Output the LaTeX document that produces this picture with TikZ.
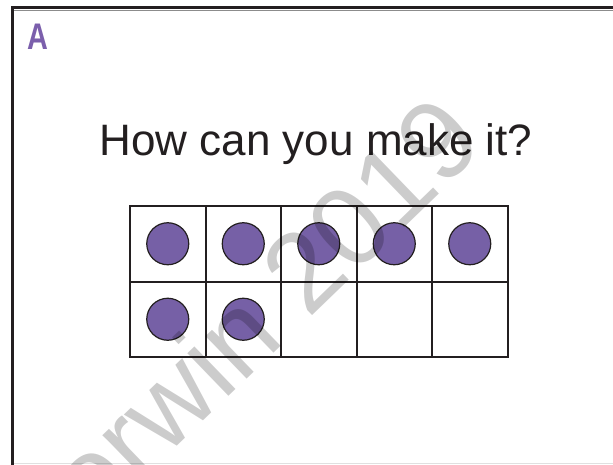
\documentclass[tikz,border=0pt]{standalone}
\usepackage{fontspec}
\setmainfont{Liberation Sans}
\definecolor{ink}{HTML}{231F20}
\definecolor{dotpurple}{HTML}{7660A6}
\definecolor{lblpurple}{HTML}{7B5FAC}
\begin{document}
\begin{tikzpicture}[x=1pt,y=-1pt,
  cell/.style={draw=ink,line width=2pt,minimum size=75.5pt,inner sep=0pt,outer sep=0pt},
  counter/.style={circle,draw=ink,line width=1.2pt,fill=dotpurple,minimum size=42pt,inner sep=0pt},
  frameline/.style={draw=ink,line width=3pt},
  watermark/.style={text=black,text opacity=0.2,font=\fontsize{112}{120}\selectfont}]
\useasboundingbox (0,0) rectangle (613,465);
\fill[white] (0,0) rectangle (613,465);
% frame
\draw[frameline] (12.5,466) -- (12.5,8) -- (614,8);
\draw[black!45,line width=0.8pt] (14,10) -- (614,10);
\draw[black!12,line width=1.2pt] (14,463.8) -- (614,463.8);
% label
\node[anchor=base west,inner sep=0pt,text=lblpurple,font=\bfseries\fontsize{37}{40}\selectfont,xscale=0.78] (lbl) at (27.5,50) {A};
% title
\node[anchor=base,inner sep=0pt,text=ink,font=\fontsize{44}{50}\selectfont] (title) at (316,155.7) {How can you make it?};
% ten frame
\foreach \r/\y in {1/243.75,2/319.25}{
  \foreach \c/\x in {1/167.75,2/243.25,3/318.75,4/394.25,5/469.75}{
    \node[cell] (c\r\c) at (\x,\y) {};
  }
}
% counters
\foreach \n in {11,12,13,14,15,21,22}{
  \node[counter] (d\n) at (c\n) {};
}
% watermark
\node[watermark,rotate=44] (wm) at (234,336) {Corwin 2019};
\end{tikzpicture}
\end{document}
